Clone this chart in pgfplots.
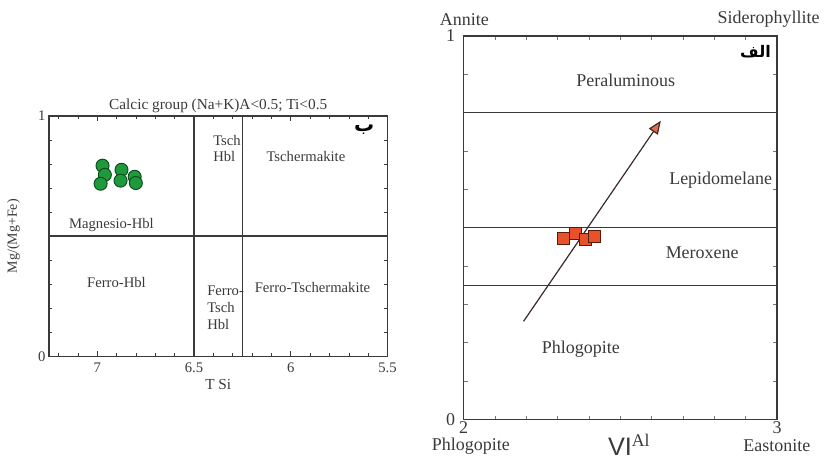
\documentclass[border=0pt]{standalone}
\usepackage{pgfplots}
\pgfplotsset{compat=1.18}
\usepackage{fontspec}
\setmainfont{Liberation Serif}
\newfontfamily\sansf{Liberation Sans}
\newfontfamily\arabicfont[Script=Arabic]{DejaVu Sans}
\TeXXeTstate=1
\usetikzlibrary{arrows.meta}
\definecolor{axgray}{HTML}{3A3A3A}
\definecolor{grn}{HTML}{1E9A3C}
\definecolor{grnd}{HTML}{0D4A1A}
\definecolor{org}{HTML}{E8522A}
\definecolor{orgd}{HTML}{5A1A0A}
\definecolor{arr}{HTML}{3A2A2A}
\begin{document}
\begin{tikzpicture}
\path (0,0) rectangle (618pt,345pt);
% ---------------- Left: amphibole ----------------
\begin{axis}[
  at={(36.75pt,77.25pt)}, anchor=south west,
  width=254.25pt, height=180.75pt, scale only axis,
  x dir=reverse,
  xmin=5.5, xmax=7.25, ymin=0, ymax=1,
  xtick={5.5,6,6.5,7}, xticklabels={5.5,6,6.5,7},
  minor xtick={5.6,5.7,5.8,5.9,6.1,6.2,6.3,6.4,6.6,6.7,6.8,6.9,7.1,7.2},
  ytick={0,1}, minor ytick={0.1,0.2,0.3,0.4,0.5,0.6,0.7,0.8,0.9},
  tick align=inside,
  major tick length=4pt, minor tick length=2.5pt,
  every tick/.style={axgray, line width=0.5pt},
  axis line style={axgray, line width=1.1pt},
  /pgf/number format/assume math mode=true,
  tick label style={font=\fontsize{11}{12}\selectfont, text=axgray},
  xticklabel style={yshift=-1pt},
  yticklabel style={xshift=1pt},
  xlabel={T Si}, xlabel style={font=\fontsize{11.5}{13}\selectfont, text=axgray, yshift=2pt},
  ylabel={Mg/(Mg+Fe)}, ylabel style={font=\fontsize{10.5}{12}\selectfont, text=axgray, yshift=7pt},
  title={Calcic group (Na+K)A<0.5; Ti<0.5},
  title style={font=\fontsize{11.5}{13}\selectfont, text=axgray, yshift=-7pt},
  clip=false,
]
\addplot[axgray, line width=1.1pt] coordinates {(6.5,0) (6.5,1)};
\addplot[axgray, line width=1.1pt] coordinates {(6.25,0) (6.25,1)};
\addplot[axgray, line width=1.1pt] coordinates {(7.25,0.5) (5.5,0.5)};
\addplot[only marks, mark=*, mark size=4.9pt, mark options={fill=grn, draw=grnd, line width=0.7pt}] coordinates {
 (6.973,0.793) (6.961,0.755) (6.983,0.718) (6.875,0.776) (6.880,0.731) (6.807,0.747) (6.801,0.721)};
\begin{scope}[every node/.style={font=\fontsize{11}{12.5}\selectfont, text=axgray}]
\node[align=left, anchor=west] at (axis cs:6.425,0.865) {Tsch\\Hbl};
\node at (axis cs:5.922,0.831) {Tschermakite};
\node at (axis cs:6.927,0.548) {Magnesio-Hbl};
\node at (axis cs:6.901,0.308) {Ferro-Hbl};
\node[align=left, anchor=west] at (axis cs:6.456,0.203) {Ferro-\\Tsch\\Hbl};
\node at (axis cs:5.888,0.285) {Ferro-Tschermakite};
\end{scope}
\node[font=\arabicfont\bfseries\fontsize{15}{16}\selectfont, text=black] at (axis cs:5.621,0.942) {\beginR ب\endR};
\end{axis}
% ---------------- Right: biotite ----------------
\begin{axis}[
  at={(348.2pt,30pt)}, anchor=south west,
  width=235.3pt, height=288pt, scale only axis,
  xmin=2, xmax=3, ymin=0, ymax=1,
  xtick={2,3}, minor xtick={2.1,2.2,2.3,2.4,2.5,2.6,2.7,2.8,2.9},
  ytick={0,1}, minor ytick={0.1,0.2,0.3,0.4,0.5,0.6,0.7,0.8,0.9},
  tick align=inside,
  major tick length=4pt, minor tick length=3pt,
  every tick/.style={axgray!70, line width=0.5pt},
  axis line style={axgray, line width=1.1pt},
  /pgf/number format/assume math mode=true,
  tick label style={font=\fontsize{13.5}{14}\selectfont, text=axgray},
  xticklabel style={yshift=2pt},
  yticklabel style={xshift=-3pt},
  clip=false,
]
\addplot[axgray, line width=1.1pt] coordinates {(2,0.80) (3,0.80)};
\addplot[axgray, line width=1.1pt] coordinates {(2,0.50) (3,0.50)};
\addplot[axgray, line width=1.1pt] coordinates {(2,0.35) (3,0.35)};
\addplot[arr, line width=0.9pt, -{Triangle[length=10pt,width=8pt,fill=red!45!brown!80]}] coordinates {(2.191,0.256) (2.629,0.779)};
\addplot[only marks, mark=square*, mark size=4.5pt, mark options={fill=org, draw=orgd, line width=0.7pt}] coordinates {
 (2.318,0.473) (2.358,0.486) (2.390,0.470) (2.416,0.478)};
\begin{scope}[every node/.style={font=\fontsize{13.5}{15}\selectfont, text=axgray}]
\node at (axis cs:2.517,0.885) {Peraluminous};
\node at (axis cs:2.820,0.625) {Lepidomelane};
\node at (axis cs:2.761,0.434) {Meroxene};
\node at (axis cs:2.374,0.182) {Phlogopite};
\node at (axis cs:2.002,1.042) {Annite};
\node at (axis cs:2.973,1.044) {Siderophyllite};
\node at (axis cs:2.023,-0.0695) {Phlogopite};
\node at (axis cs:2.999,-0.068) {Eastonite};
\end{scope}
\node[font=\sansf\fontsize{19}{20}\selectfont, text=axgray] at (axis cs:2.528,-0.066) {VI$^{\mathrm{\sansf\fontsize{10}{10}\selectfont Al}}$};
\node[font=\arabicfont\bfseries\fontsize{12}{14}\selectfont, text=black] at (axis cs:2.931,0.959) {\beginR الف\endR};
\end{axis}
\end{tikzpicture}
\end{document}
